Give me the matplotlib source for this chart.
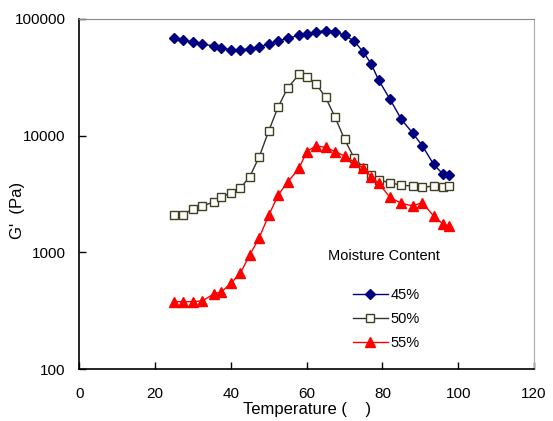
import matplotlib
matplotlib.use("Agg")
from matplotlib import pyplot as plt
from matplotlib.ticker import FixedLocator, NullLocator

plt.rcParams['font.family'] = ['Liberation Sans', 'DejaVu Sans']

# temperature readings (same for all three samples)
temperature = [25, 27.5, 30, 32.5, 35.5, 37.5, 40, 42.5, 45, 47.5, 50, 52.5, 55, 58,
               60, 62.5, 65, 67.5, 70, 72.5, 75, 77, 79, 82, 85, 88, 90.5, 93.5, 96, 97.5]

# G' values (Pa) for each moisture content
g_45 = [68400, 66100, 63500, 61000, 58700, 56700, 54200, 54200, 55700, 57900,
        61000, 64800, 68400, 72500, 74400, 77400, 79400, 77800, 72500, 64800,
        51900, 41400, 30000, 20500, 13800, 10500, 8220, 5690, 4670, 4610]
g_50 = [2100, 2100, 2370, 2500, 2700, 2960, 3250, 3540, 4460, 6600,
        11000, 17700, 25600, 33600, 31600, 27700, 21300, 14400, 9310, 6480,
        5320, 4610, 4170, 3950, 3760, 3700, 3610, 3700, 3610, 3700]
g_55 = [378, 378, 378, 384, 440, 458, 543, 662, 950, 1340,
        2080, 3100, 4010, 5250, 7300, 8160, 7940, 7300, 6700, 5950,
        5250, 4460, 3910, 2960, 2630, 2500, 2670, 2050, 1750, 1680]

labels = ['45%', '50%', '55%']

fig = plt.figure(figsize=(5.53, 4.21), dpi=100)
ax = fig.add_axes([0.1434, 0.1235, 0.8222, 0.8314])

ax.plot(temperature, g_45, color='#000080', lw=1, marker='D', ms=4.6,
        mfc='#000080', mec='#000080', label=labels[0])
ax.plot(temperature, g_50, color='#333333', lw=1, marker='s', ms=6,
        mfc='white', mec='#404020', mew=1, label=labels[1])
ax.plot(temperature, g_55, color='#ff0000', lw=1, marker='^', ms=6.5,
        mfc='#ff0000', mec='#ff0000', label=labels[2])

ax.set_yscale('log')
ax.set_xlim(0, 120)
ax.set_ylim(100, 100000)
ax.xaxis.set_major_locator(FixedLocator([0, 20, 40, 60, 80, 100, 120]))
ax.yaxis.set_major_locator(FixedLocator([100, 1000, 10000, 100000]))
ax.yaxis.set_minor_locator(NullLocator())
ax.set_yticklabels(['100', '1000', '10000', '100000'])

ax.tick_params(axis='both', direction='in', length=5, width=1, labelsize=11)
ax.tick_params(axis='x', pad=13)
ax.tick_params(axis='y', pad=10)

ax.spines['left'].set_color('black')
ax.spines['bottom'].set_color('black')
ax.spines['left'].set_linewidth(1.2)
ax.spines['bottom'].set_linewidth(1.2)
ax.spines['top'].set_color('#888888')
ax.spines['right'].set_color('#aaaaaa')

ax.set_xlabel('Temperature (    )', fontsize=12, labelpad=1)
ax.set_ylabel("G'  (Pa)", fontsize=12)
ax.yaxis.set_label_coords(-0.119, 0.454)

fig.text(0.593, 0.392, 'Moisture Content', fontsize=10.5, ha='left', va='center')
leg = ax.legend(loc='upper left', bbox_to_anchor=(0.625, 0.333), bbox_transform=fig.transFigure,
                frameon=False, fontsize=10.5, handlelength=2.4, handletextpad=0.2,
                labelspacing=0.68, borderpad=0)

fig.savefig('out.png', dpi=100)
